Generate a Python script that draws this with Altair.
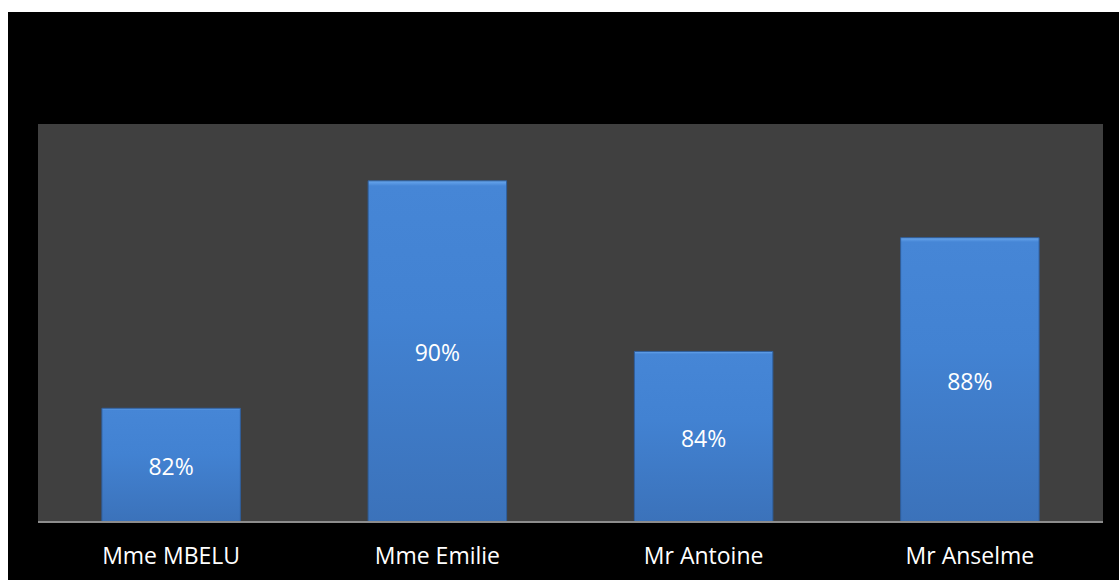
import altair as alt
import pandas as pd

names = ["Mme MBELU", "Mme Emilie", "Mr Antoine", "Mr Anselme"]
values = [82, 90, 84, 88]
labels = ["82%", "90%", "84%", "88%"]
y_min, y_max = 78, 92

df = pd.DataFrame({"name": names, "value": values, "label": labels})

W, H = 1065, 398
PAD = {"left": 38, "top": 124, "right": 16, "bottom": 58}

blank = alt.Data(values=[{"a": 1}])

black = alt.Chart(blank).mark_rect(color="black", clip=False).encode(
    x=alt.value(-30), x2=alt.value(W + 16), y=alt.value(-112), y2=alt.value(H + 58)
)
grey = alt.Chart(blank).mark_rect(color="#404040").encode(
    x=alt.value(0), x2=alt.value(W), y=alt.value(0), y2=alt.value(H)
)

xenc = alt.X(
    "name:N",
    sort=names,
    scale=alt.Scale(paddingInner=0.48, paddingOuter=0.24),
    axis=alt.Axis(
        title=None, ticks=False, domain=False, labelAngle=0,
        labelColor="white", labelFont="Open Sans", labelFontSize=23,
        labelBaseline="middle", labelPadding=34, zindex=1,
    ),
)
yscale = alt.Scale(domain=[y_min, y_max], nice=False, zero=False)

grad = alt.LinearGradient(
    gradient="linear",
    stops=[
        alt.GradientStop(color="#6aa8ee", offset=0),
        alt.GradientStop(color="#4686d6", offset=0.015),
        alt.GradientStop(color="#4282d2", offset=0.4),
        alt.GradientStop(color="#3b72ba", offset=1),
    ],
    x1=0, x2=0, y1=0, y2=1,
)

base = alt.Chart(df)
bars = base.mark_bar(color=grad, stroke="#2f5f9e", strokeWidth=1).encode(
    x=xenc,
    y=alt.Y("value:Q", scale=yscale, axis=None),
    y2=alt.datum(y_min),
)
text = base.transform_calculate(mid=f"(datum.value + {y_min}) / 2").mark_text(
    color="white", font="Open Sans", fontSize=23, baseline="middle", dy=3
).encode(
    x=alt.X("name:N", sort=names),
    y=alt.Y("mid:Q", scale=yscale, axis=None),
    text="label:N",
)
baseline = alt.Chart(blank).mark_rule(color="#8c8c8c", strokeWidth=2).encode(
    x=alt.value(0), x2=alt.value(W), y=alt.value(H)
)

chart = alt.layer(black, grey, bars, text, baseline).properties(
    width=W, height=H, padding=PAD,
    autosize=alt.AutoSizeParams(type="none"),
    background="white",
).configure_view(stroke=None)

chart.save("out.html", embed_options={"renderer": "svg", "actions": False})
